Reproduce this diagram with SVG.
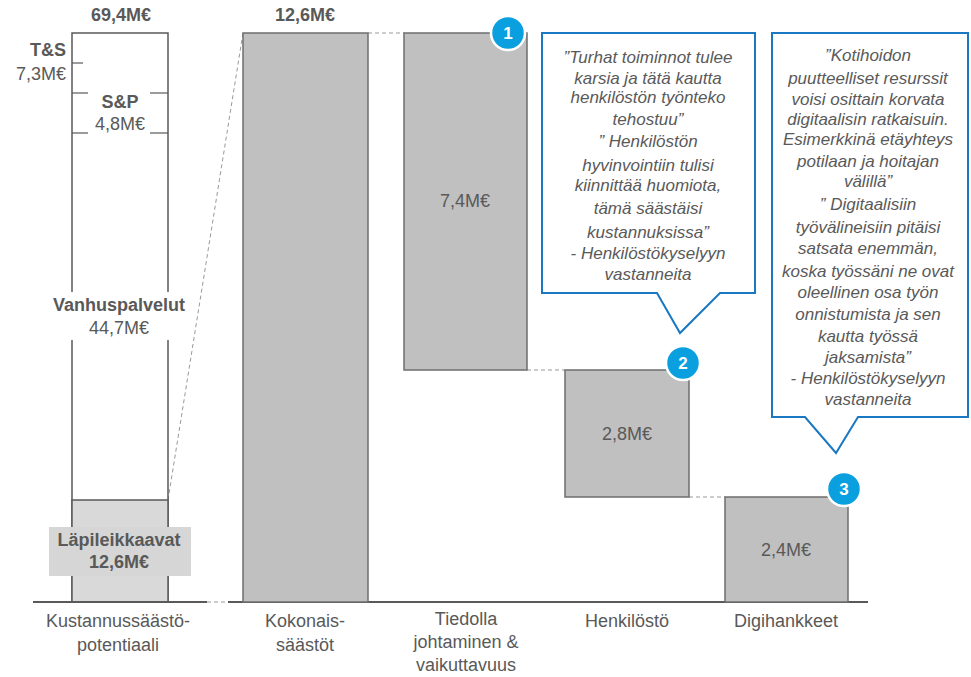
<svg xmlns="http://www.w3.org/2000/svg" width="971" height="677" viewBox="0 0 971 677">
<style>
text{font-family:"Liberation Sans",Arial,sans-serif;fill:#595959;font-size:18px;text-anchor:middle}
.b{font-weight:bold}
.q{font-style:italic;font-size:17px}
.bar{fill:#c0c0c0;stroke:#6e6e6e;stroke-width:1.5}
.dash{stroke:#999;stroke-width:1;stroke-dasharray:4 3;fill:none}
.ax{stroke:#595959;stroke-width:2}
.tk{stroke:#595959;stroke-width:1.2}
.call{fill:#fff;stroke:#1a78c2;stroke-width:2}
.num circle{fill:#0aa0e0;stroke:#fff;stroke-width:2.5}
.num text{fill:#fff;font-weight:bold;font-size:17px}
</style>
<g id="connectors">
<line class="dash" x1="168" y1="500" x2="243" y2="33"/>
<line class="dash" x1="207" y1="602" x2="243" y2="602"/>
<line class="dash" x1="368" y1="33" x2="404" y2="33"/>
<line class="dash" x1="527" y1="370" x2="565" y2="370"/>
<line class="dash" x1="689" y1="497" x2="725" y2="497"/>
</g>
<g id="stack">
<rect x="72" y="33" width="96" height="569" fill="#fff" stroke="#595959" stroke-width="1.5"/>
<rect x="72" y="500" width="96" height="102" fill="#d9d9d9" stroke="#595959" stroke-width="1.5"/>
<line class="tk" x1="72" y1="63" x2="83" y2="63"/>
<line class="tk" x1="72" y1="93" x2="88" y2="93"/>
<line class="tk" x1="150" y1="93" x2="168" y2="93"/>
<line class="tk" x1="72" y1="133" x2="88" y2="133"/>
<line class="tk" x1="150" y1="133" x2="168" y2="133"/>
<text class="b" x="121" y="21">69,4M€</text>
<text class="b" x="66" y="56" style="text-anchor:end">T&amp;S</text>
<text x="66" y="80" style="text-anchor:end">7,3M€</text>
<text class="b" x="120" y="108">S&amp;P</text>
<text x="120" y="130">4,8M€</text>
<rect x="45" y="292" width="146" height="48" fill="#fff"/>
<text class="b" x="119" y="311">Vanhuspalvelut</text>
<text x="119" y="334">44,7M€</text>
<rect x="49" y="527" width="142" height="49" fill="#d6d6d6"/>
<text class="b" x="119" y="546">Läpileikkaavat</text>
<text class="b" x="119" y="568">12,6M€</text>
</g>
<g id="axis">
<line class="ax" x1="33" y1="602" x2="207" y2="602"/>
<line class="ax" x1="228" y1="602" x2="868" y2="602"/>
</g>
<g id="kokonais">
<rect class="bar" x="243" y="33" width="125" height="569"/>
<text class="b" x="305" y="21">12,6M€</text>
</g>
<g id="tiedolla">
<rect class="bar" x="404" y="33" width="123" height="337"/>
<text x="465" y="207">7,4M€</text>
</g>
<g id="henkilosto">
<rect class="bar" x="565" y="370" width="124" height="127"/>
<text x="627" y="440">2,8M€</text>
</g>
<g id="digi">
<rect class="bar" x="725" y="497" width="123" height="105"/>
<text x="786" y="556">2,4M€</text>
</g>
<g id="labels">
<text x="118" y="627">Kustannussäästö-</text>
<text x="118" y="651">potentiaali</text>
<text x="305" y="627">Kokonais-</text>
<text x="305" y="651">säästöt</text>
<text x="466" y="625">Tiedolla</text>
<text x="466" y="648">johtaminen &amp;</text>
<text x="466" y="671">vaikuttavuus</text>
<text x="627" y="627">Henkilöstö</text>
<text x="786" y="627">Digihankkeet</text>
</g>
<g id="badge1" class="num"><circle cx="508" cy="33" r="17"/><text x="508" y="39">1</text></g>
<g id="badge2" class="num"><circle cx="683" cy="363" r="17"/><text x="683" y="369">2</text></g>
<g id="badge3" class="num"><circle cx="844" cy="489" r="17"/><text x="844" y="495">3</text></g>
<g id="callout1">
<path class="call" d="M542,33 H755 V293 H720 L680,333 L657,293 H542 Z"/>
<text class="q" x="648" y="63">”Turhat toiminnot tulee</text>
<text class="q" x="648" y="84">karsia ja tätä kautta</text>
<text class="q" x="648" y="103">henkilöstön työnteko</text>
<text class="q" x="648" y="125">tehostuu”</text>
<text class="q" x="648" y="147">” Henkilöstön</text>
<text class="q" x="648" y="171">hyvinvointiin tulisi</text>
<text class="q" x="648" y="191">kiinnittää huomiota,</text>
<text class="q" x="648" y="214">tämä säästäisi</text>
<text class="q" x="648" y="238">kustannuksissa”</text>
<text class="q" x="648" y="259">- Henkilöstökyselyyn</text>
<text class="q" x="648" y="280">vastanneita</text>
</g>
<g id="callout2">
<path class="call" d="M772,33 H968 V417 H858 L836,453 L805,417 H772 Z"/>
<text class="q" x="868" y="61">”Kotihoidon</text>
<text class="q" x="868" y="84">puutteelliset resurssit</text>
<text class="q" x="868" y="105">voisi osittain korvata</text>
<text class="q" x="868" y="125">digitaalisin ratkaisuin.</text>
<text class="q" x="868" y="145">Esimerkkinä etäyhteys</text>
<text class="q" x="868" y="167">potilaan ja hoitajan</text>
<text class="q" x="868" y="187">välillä”</text>
<text class="q" x="868" y="210">” Digitaalisiin</text>
<text class="q" x="868" y="233">työvälineisiin pitäisi</text>
<text class="q" x="868" y="254">satsata enemmän,</text>
<text class="q" x="868" y="277">koska työssäni ne ovat</text>
<text class="q" x="868" y="298">oleellinen osa työn</text>
<text class="q" x="868" y="320">onnistumista ja sen</text>
<text class="q" x="868" y="342">kautta työssä</text>
<text class="q" x="868" y="363">jaksamista”</text>
<text class="q" x="868" y="384">- Henkilöstökyselyyn</text>
<text class="q" x="868" y="405">vastanneita</text>
</g>
</svg>
